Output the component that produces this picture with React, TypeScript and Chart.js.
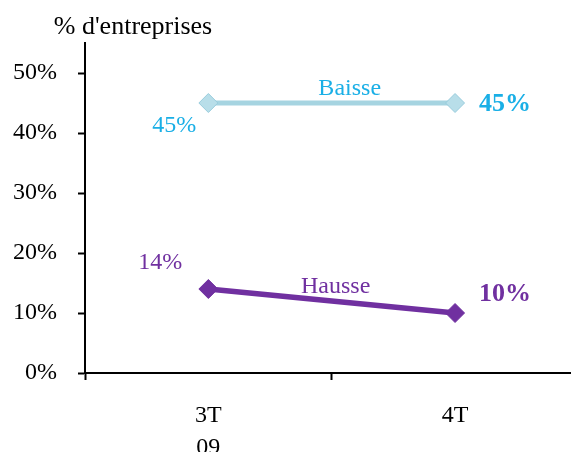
import React, { useEffect, useRef } from 'react';
import { Chart, registerables } from 'chart.js';

Chart.register(...registerables);

const categories: string[][] = [['3T', '09'], ['4T']];
const seriesNames = ['Baisse', 'Hausse'];
const baisseValues = [45, 45];
const hausseValues = [14, 10];
const yTickValues = [0, 10, 20, 30, 40, 50];
const axisTitle = "% d'entreprises";

const FONT = "'Liberation Serif', 'Times New Roman', serif";

export default function App() {
  const ref = useRef<HTMLCanvasElement | null>(null);

  useEffect(() => {
    if (!ref.current) return;

    const labelPlugin = {
      id: 'customLabels',
      afterDatasetsDraw(chart: any) {
        const ctx = chart.ctx;
        ctx.save();
        // axis title
        ctx.font = `26px ${FONT}`;
        ctx.fillStyle = '#000';
        ctx.textAlign = 'center';
        ctx.textBaseline = 'middle';
        ctx.fillText(axisTitle, 133, 27);

        const cfg = [
          { color: '#1AAFE6', first: [-34, 23], last: [50, 1], name: [18, -14] },
          { color: '#7030A0', first: [-48, -26], last: [50, -19], name: [4, -14] },
        ];
        chart.data.datasets.forEach((ds: any, i: number) => {
          const meta = chart.getDatasetMeta(i);
          const c = cfg[i];
          const p0 = meta.data[0];
          const p1 = meta.data[1];
          ctx.fillStyle = c.color;
          ctx.font = `24px ${FONT}`;
          ctx.fillText(`${ds.data[0].y}%`, p0.x + c.first[0], p0.y + c.first[1]);
          ctx.font = `bold 26px ${FONT}`;
          ctx.fillText(`${ds.data[1].y}%`, p1.x + c.last[0], p1.y + c.last[1]);
          ctx.font = `24px ${FONT}`;
          const mx = (p0.x + p1.x) / 2;
          const my = (p0.y + p1.y) / 2;
          ctx.fillText(seriesNames[i], mx + c.name[0], my + c.name[1]);
        });
        ctx.restore();
      },
    };

    const chart = new Chart(ref.current, {
      type: 'line',
      data: {
        datasets: [
          {
            label: seriesNames[0],
            data: baisseValues.map((v, i) => ({ x: i, y: v })),
            borderColor: '#A6D4E1',
            backgroundColor: '#B8DEE9',
            pointBackgroundColor: '#B8DEE9',
            pointBorderColor: '#98CCDC',
            pointBorderWidth: 1,
            pointStyle: 'rectRot',
            pointRadius: 9.5,
            borderWidth: 5,
            clip: false,
          },
          {
            label: seriesNames[1],
            data: hausseValues.map((v, i) => ({ x: i, y: v })),
            borderColor: '#7030A0',
            backgroundColor: '#7030A0',
            pointBackgroundColor: '#7030A0',
            pointBorderColor: '#7030A0',
            pointBorderWidth: 1,
            pointStyle: 'rectRot',
            pointRadius: 9.5,
            borderWidth: 5.5,
            clip: false,
          },
        ],
      },
      options: {
        animation: false,
        responsive: false,
        layout: { autoPadding: false, padding: { top: 43, left: 0, right: 0, bottom: 0 } },
        plugins: {
          legend: { display: false },
          tooltip: { enabled: false },
          title: { display: false },
        },
        scales: {
          x: {
            type: 'linear',
            min: -0.5,
            max: 1.47,
            afterBuildTicks: (s: any) => {
              s.ticks = [-0.5, 0, 0.5, 1].map((v) => ({ value: v }));
            },
            afterFit: (s: any) => {
              s.height = 79;
              s.paddingLeft = 0;
              s.paddingRight = 0;
            },
            ticks: {
              autoSkip: false,
              maxRotation: 0,
              minRotation: 0,
              color: '#000',
              font: { family: FONT, size: 24, lineHeight: 1.33 },
              padding: 20,
              callback: (v: any) => (Number.isInteger(v) ? categories[v] : ''),
            },
            grid: {
              drawOnChartArea: false,
              tickLength: 7,
              tickWidth: 2,
              tickColor: (c: any) =>
                c.tick && Number.isInteger(c.tick.value) ? 'rgba(0,0,0,0)' : '#000',
            },
            border: { color: '#000', width: 2 },
          },
          y: {
            min: 0,
            max: 55,
            afterBuildTicks: (s: any) => {
              s.ticks = yTickValues.map((v) => ({ value: v }));
            },
            afterFit: (s: any) => {
              s.width = 85;
            },
            ticks: {
              color: '#000',
              font: { family: FONT, size: 24 },
              padding: 21,
              callback: (v: any) => `${v}%`,
            },
            grid: {
              drawOnChartArea: false,
              tickLength: 7,
              tickWidth: 2,
              tickColor: '#000',
            },
            border: { color: '#000', width: 2 },
          },
        },
      },
      plugins: [labelPlugin],
    } as any);

    return () => chart.destroy();
  }, []);

  return (
    <div style={{ position: 'fixed', left: 0, top: 0, width: 571, height: 452, background: '#fff' }}>
      <canvas ref={ref} width={571} height={452} />
    </div>
  );
}
